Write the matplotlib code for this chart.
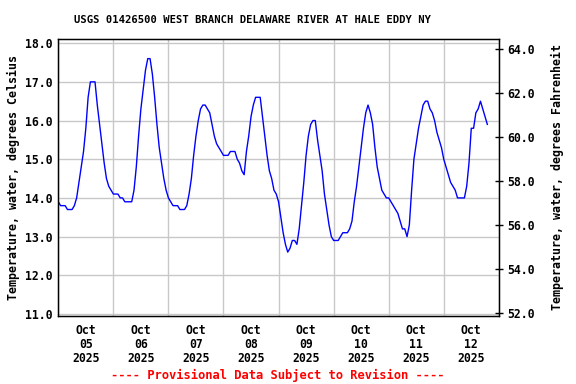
import numpy as np
import matplotlib
matplotlib.use("Agg")
import matplotlib.pyplot as plt
import matplotlib.dates as mdates

# hourly water temperature (deg C), starting Oct 05 2025 00:00
temp_c = [
    13.9, 13.8, 13.8, 13.8, 13.7, 13.7, 13.7, 13.8, 14.0, 14.4, 14.8, 15.2,
    15.8, 16.6, 17.0, 17.0, 17.0, 16.4, 15.9, 15.4, 14.9, 14.5, 14.3, 14.2,
    14.1, 14.1, 14.1, 14.0, 14.0, 13.9, 13.9, 13.9, 13.9, 14.2, 14.8, 15.6,
    16.3, 16.8, 17.3, 17.6, 17.6, 17.2, 16.6, 15.9, 15.3, 14.9, 14.5, 14.2,
    14.0, 13.9, 13.8, 13.8, 13.8, 13.7, 13.7, 13.7, 13.8, 14.1, 14.5, 15.1,
    15.6, 16.0, 16.3, 16.4, 16.4, 16.3, 16.2, 15.9, 15.6, 15.4, 15.3, 15.2,
    15.1, 15.1, 15.1, 15.2, 15.2, 15.2, 15.0, 14.9, 14.7, 14.6, 15.2, 15.6,
    16.1, 16.4, 16.6, 16.6, 16.6, 16.1, 15.6, 15.1, 14.7, 14.5, 14.2, 14.1,
    13.9, 13.5, 13.1, 12.8, 12.6, 12.7, 12.9, 12.9, 12.8, 13.2, 13.8, 14.4,
    15.1, 15.6, 15.9, 16.0, 16.0, 15.5, 15.1, 14.7, 14.1, 13.7, 13.3, 13.0,
    12.9, 12.9, 12.9, 13.0, 13.1, 13.1, 13.1, 13.2, 13.4, 13.9, 14.3, 14.8,
    15.3, 15.8, 16.2, 16.4, 16.2, 15.9, 15.3, 14.8, 14.5, 14.2, 14.1, 14.0,
    14.0, 13.9, 13.8, 13.7, 13.6, 13.4, 13.2, 13.2, 13.0, 13.3, 14.2, 15.0,
    15.4, 15.8, 16.1, 16.4, 16.5, 16.5, 16.3, 16.2, 16.0, 15.7, 15.5, 15.3,
    15.0, 14.8, 14.6, 14.4, 14.3, 14.2, 14.0, 14.0, 14.0, 14.0, 14.3, 14.9,
    15.8, 15.8, 16.2, 16.3, 16.5, 16.3, 16.1, 15.9,
]
start = np.datetime64("2025-10-05T00:00")
times = start + np.arange(len(temp_c)) * np.timedelta64(1, "h")

title = "USGS 01426500 WEST BRANCH DELAWARE RIVER AT HALE EDDY NY"
left_label = "Temperature, water, degrees Celsius"
right_label = "Temperature, water, degrees Fahrenheit"
note = "---- Provisional Data Subject to Revision ----"

plt.rcParams["font.family"] = "DejaVu Sans Mono"
plt.rcParams["font.weight"] = "bold"

fig = plt.figure(figsize=(5.76, 3.84), dpi=100)
ax = fig.add_axes([0.1012, 0.1779, 0.7648, 0.7198])

ax.plot(times, temp_c, color="#0000ff", lw=1.0)

ax.set_xlim(np.datetime64("2025-10-05T00:00"), np.datetime64("2025-10-13T00:00"))
ax.set_ylim(10.956, 18.10)
ax.set_yticks(np.arange(11, 18.5, 1.0))
ax.yaxis.set_major_formatter(matplotlib.ticker.FormatStrFormatter("%.1f"))

ax.xaxis.set_major_locator(mdates.HourLocator(byhour=[12]))
ax.xaxis.set_major_formatter(mdates.DateFormatter("%b\n%d\n%Y"))
ax.xaxis.set_minor_locator(mdates.DayLocator())
ax.grid(True, which="minor", axis="x", color="#c8c8c8", lw=1.0)
ax.grid(True, which="major", axis="y", color="#c8c8c8", lw=1.0)
ax.set_axisbelow(True)
ax.tick_params(axis="x", which="both", length=0, pad=6, labelsize=8.3)
ax.tick_params(axis="y", length=0, pad=4, labelsize=8.3)
for lbl in ax.get_xticklabels():
    lbl.set_linespacing(1.1)
for s in ax.spines.values():
    s.set_linewidth(1.0)

ax.set_ylabel(left_label, fontsize=8.4, fontweight="bold", labelpad=4)

ax2 = ax.twinx()
ax2.set_ylim(51.89, 64.44)
ax2.set_yticks(np.arange(52, 65, 2.0))
ax2.yaxis.set_major_formatter(matplotlib.ticker.FormatStrFormatter("%.1f"))
ax2.tick_params(axis="y", direction="inout", length=6, width=1.0, pad=3, labelsize=8.3)
ax2.set_ylabel(right_label, fontsize=8.4, fontweight="bold", labelpad=12)

fig.text(0.438, 0.948, title, ha="center", va="center", fontsize=7.6, fontweight="bold")
fig.text(0.483, 0.023, note, ha="center", va="center", fontsize=8.7,
         fontweight="bold", color="red")

fig.savefig("out.png", dpi=100)
